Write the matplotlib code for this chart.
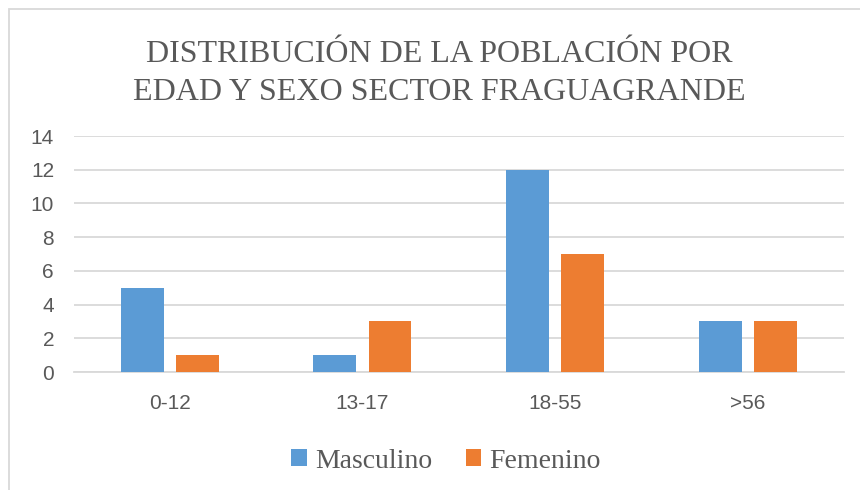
import matplotlib
matplotlib.use("Agg")
import matplotlib.pyplot as plt
import numpy as np
from matplotlib.patches import Rectangle

categories = ["0-12", "13-17", "18-55", ">56"]
masculino = [5, 1, 12, 3]
femenino = [1, 3, 7, 3]
yticks = [0, 2, 4, 6, 8, 10, 12, 14]
title_lines = ["DISTRIBUCIÓN DE LA POBLACIÓN POR", "EDAD Y SEXO SECTOR FRAGUAGRANDE"]

W, H = 860, 490
fig = plt.figure(figsize=(W / 100, H / 100), dpi=100)
fig.patch.set_facecolor("white")

left, right, bottom, top = 73.5, 844, 372, 136
ax = fig.add_axes([left / W, (H - bottom) / H, (right - left) / W, (bottom - top) / H])

x = np.arange(len(categories))
bw = 0.223
off = 0.143
ax.bar(x - off, masculino, bw, color="#5B9BD5", label="Masculino", zorder=3)
ax.bar(x + off, femenino, bw, color="#ED7D31", label="Femenino", zorder=3)

ax.set_xlim(-0.5, len(categories) - 0.5)
ax.set_ylim(0, 14)
ax.set_yticks(yticks)
ax.set_xticks(x)
ax.set_xticklabels(categories)
ax.yaxis.grid(True, color="#D9D9D9", linewidth=1.3, zorder=0)
ax.set_axisbelow(True)
for s in ["top", "right", "left"]:
    ax.spines[s].set_visible(False)
ax.spines["bottom"].set_color("#D9D9D9")
ax.spines["bottom"].set_linewidth(1.3)
ax.tick_params(axis="both", length=0, labelsize=15, labelcolor="#595959")
ax.tick_params(axis="y", pad=14)
ax.tick_params(axis="x", pad=16)
for lab in ax.get_xticklabels() + ax.get_yticklabels():
    lab.set_fontfamily("Liberation Sans")

for line, base in zip(title_lines, [62, 100]):
    fig.text(439 / W, (H - base) / H, line, ha="center", va="baseline",
             fontsize=23, color="#595959", family="Liberation Serif")

leg = fig.legend(loc="center", bbox_to_anchor=(446 / W, (H - 461) / H), ncol=2,
                 frameon=False, prop={"family": "Liberation Serif", "size": 20},
                 handlelength=0.55, handleheight=0.55, handletextpad=0.3,
                 columnspacing=1.2)
for t in leg.get_texts():
    t.set_color("#595959")

fig.add_artist(Rectangle((9 / W, -0.5), 2, (H - 9) / H + 0.5, transform=fig.transFigure,
                         fill=False, edgecolor="#D9D9D9", linewidth=1.3))

fig.savefig("out.png", dpi=100, facecolor="white")
